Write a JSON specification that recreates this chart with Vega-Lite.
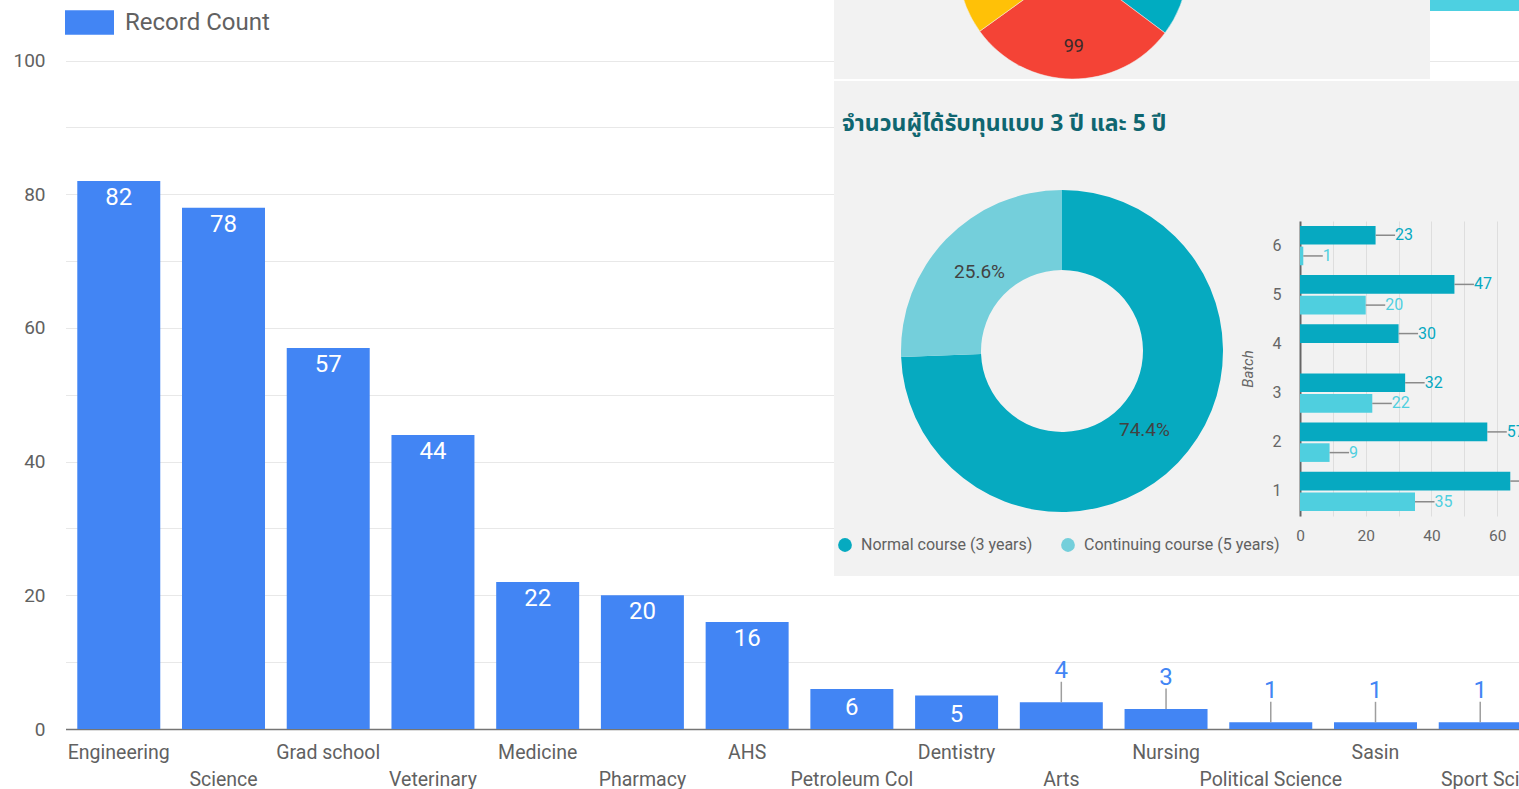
{
  "$schema": "https://vega.github.io/schema/vega-lite/v6.json",
  "background": "white",
  "padding": {"left": 12.5, "top": -152, "right": 0, "bottom": 0},
  "align": "none",
  "bounds": "flush",
  "spacing": -699.5,
  "resolve": {"scale": {"color": "independent"}, "legend": {"color": "independent"}},
  "config": {
    "view": {"stroke": null},
    "font": "Roboto"
  },
  "hconcat": [
    {
      "width": 1468,
      "height": 880,
      "data": {"values": [
        {"faculty": "Engineering", "count": 82},
        {"faculty": "Science", "count": 78},
        {"faculty": "Grad school", "count": 57},
        {"faculty": "Veterinary", "count": 44},
        {"faculty": "Medicine", "count": 22},
        {"faculty": "Pharmacy", "count": 20},
        {"faculty": "AHS", "count": 16},
        {"faculty": "Petroleum Col", "count": 6},
        {"faculty": "Dentistry", "count": 5},
        {"faculty": "Arts", "count": 4},
        {"faculty": "Nursing", "count": 3},
        {"faculty": "Political Science", "count": 1},
        {"faculty": "Sasin", "count": 1},
        {"faculty": "Sport Sci", "count": 1}
      ]},
      "encoding": {
        "x": {
          "field": "faculty", "type": "nominal", "sort": null,
          "scale": {"paddingInner": 0.2076, "paddingOuter": 0.1125},
          "axis": {
            "title": null, "labelAngle": 0, "labelFontSize": 19.5, "labelColor": "#616161",
            "ticks": false, "labelPadding": 14, "domainColor": "#757575", "domainWidth": 1.5,
            "labelOverlap": false, "labelLineHeight": 27, "labelBaseline": "top",
            "labelExpr": "indexof(['Science','Veterinary','Pharmacy','Petroleum Col','Arts','Political Science','Sport Sci'], datum.label) >= 0 ? ['', datum.label] : datum.label"
          }
        }
      },
      "layer": [
        {
          "mark": {"type": "bar"},
          "encoding": {
            "y": {
              "field": "count", "type": "quantitative",
              "scale": {"domain": [0, 131.66], "nice": false, "zero": true},
              "axis": {
                "title": null, "values": [0, 10, 20, 30, 40, 50, 60, 70, 80, 90, 100],
                "labelExpr": "datum.value % 20 === 0 ? datum.label : ''",
                "grid": true, "gridColor": "#e8e8e8", "gridWidth": 1,
                "domain": false, "ticks": false, "labelPadding": 20.5,
                "labelFontSize": 19, "labelColor": "#616161"
              }
            },
            "color": {
              "datum": "Record Count",
              "scale": {"range": ["#4285f4"]},
              "legend": {
                "orient": "none", "legendX": -0.5, "legendY": 149, "title": null,
                "symbolType": "M-1,-0.5H1V0.5H-1Z", "symbolSize": 2401, "symbolStrokeWidth": 0,
                "labelFontSize": 24, "labelColor": "#616161", "labelOffset": 11, "padding": 0
              }
            }
          }
        },
        {
          "transform": [{"filter": "datum.count >= 10"}],
          "mark": {"type": "text", "color": "white", "baseline": "top", "dy": 5, "fontSize": 24},
          "encoding": {
            "y": {"field": "count", "type": "quantitative"},
            "text": {"field": "count", "type": "quantitative"}
          }
        },
        {
          "transform": [{"filter": "datum.count >= 5 && datum.count < 10"}],
          "mark": {"type": "text", "color": "white", "baseline": "middle", "dy": 19, "fontSize": 24},
          "encoding": {
            "y": {"field": "count", "type": "quantitative"},
            "text": {"field": "count", "type": "quantitative"}
          }
        },
        {
          "transform": [{"filter": "datum.count < 5"}],
          "mark": {"type": "rule", "color": "#9e9e9e", "strokeWidth": 1.5, "y2Offset": -20.5},
          "encoding": {
            "y": {"field": "count", "type": "quantitative"},
            "y2": {"field": "count"}
          }
        },
        {
          "transform": [{"filter": "datum.count < 5"}],
          "mark": {"type": "text", "color": "#4285f4", "baseline": "alphabetic", "dy": -24, "fontSize": 24},
          "encoding": {
            "y": {"field": "count", "type": "quantitative"},
            "text": {"field": "count", "type": "quantitative"}
          }
        }
      ]
    },
    {
      "vconcat": [
        {
          "hconcat": [
            {
              "width": 124, "height": 230,
              "view": {"fill": "#f2f2f2"},
              "data": {"values": []},
              "mark": "point"
            },
            {
              "width": 230, "height": 230,
              "view": {"fill": "#f2f2f2"},
              "data": {"values": [
                {"year": "2018", "n": 117},
                {"year": "2019", "n": 99},
                {"year": "2020", "n": 52},
                {"year": "2021", "n": 34},
                {"year": "2022", "n": 30}
              ]},
              "encoding": {
                "theta": {"field": "n", "type": "quantitative", "stack": true},
                "color": {
                  "field": "year", "type": "nominal",
                  "scale": {"domain": ["2018", "2019", "2020", "2021", "2022"], "range": ["#00acc1", "#f44336", "#ffc107", "#4285f4", "#4caf50"]},
                  "legend": null
                }
              },
              "layer": [
                {"mark": {"type": "arc", "outerRadius": 115, "stroke": "#f2f2f2", "strokeWidth": 0.5}},
                {
                  "mark": {"type": "text", "radius": 83, "fontSize": 18, "color": "#3a2a2a"},
                  "encoding": {
                    "text": {"field": "n", "type": "quantitative"},
                    "color": {"value": "#3a2a2a"},
                    "detail": {"field": "year"},
                    "opacity": {"condition": {"test": "datum.year == '2019'", "value": 1}, "value": 0}
                  }
                }
              ]
            },
            {
              "width": 242, "height": 230,
              "view": {"fill": "#f2f2f2"},
              "data": {"values": []},
              "mark": "point"
            },
            {
              "width": 100, "height": 162,
              "data": {"values": [{"v": 1}]},
              "mark": {"type": "rect", "color": "#4dd0e1"}
            }
          ],
          "align": "none",
          "spacing": 0,
          "bounds": "flush",
          "resolve": {"scale": {"color": "independent"}, "legend": {"color": "independent"}}
        },
        {
          "hconcat": [
            {
              "width": 700, "height": 495,
              "view": {"fill": "#f2f2f2"},
              "title": {
                "text": "จำนวนผู้ได้รับทุนแบบ 3 ปี และ 5 ปี",
                "anchor": "start", "frame": "group", "offset": -66, "baseline": "middle",
                "dx": 8, "fontSize": 23, "fontWeight": "bold", "color": "#0f6670",
                "font": "'Noto Sans Thai', 'Noto Sans', sans-serif"
              },
              "data": {"values": []},
              "mark": "point"
            },
            {
              "hconcat": [
                {
                  "width": 456, "height": 540,
                  "data": {"values": [
                    {"course": "Normal course (3 years)", "share": 74.4, "label": "74.4%"},
                    {"course": "Continuing course (5 years)", "share": 25.6, "label": "25.6%"}
                  ]},
                  "encoding": {
                    "theta": {"field": "share", "type": "quantitative", "stack": true},
                    "order": {"field": "share", "type": "quantitative", "sort": "descending"},
                    "color": {
                      "field": "course", "type": "nominal",
                      "scale": {"domain": ["Normal course (3 years)", "Continuing course (5 years)"], "range": ["#06aac0", "#74cfdb"]},
                      "legend": {
                        "orient": "none", "legendX": 3, "legendY": 456, "direction": "horizontal",
                        "title": null, "symbolType": "circle", "symbolSize": 190, "symbolStrokeWidth": 0,
                        "labelFontSize": 16, "labelColor": "#616161", "labelOffset": 8,
                        "columnPadding": 27, "padding": 0, "labelLimit": 300
                      }
                    }
                  },
                  "layer": [
                    {"mark": {"type": "arc", "outerRadius": 161, "innerRadius": 81}},
                    {
                      "mark": {"type": "text", "radius": 114.5, "fontSize": 19, "color": "#424242"},
                      "encoding": {"text": {"field": "label", "type": "nominal"}, "color": {"value": "#424242"}, "detail": {"field": "course"}}
                    }
                  ]
                },
                {
                  "vconcat": [
                    {
                      "width": 230, "height": 1,
                      "data": {"values": []},
                      "mark": "point"
                    },
                    {
                      "width": 230, "height": 295,
                      "data": {"values": [
                        {"batch": "6", "course": "Normal course (3 years)", "n": 23},
                        {"batch": "6", "course": "Continuing course (5 years)", "n": 1},
                        {"batch": "5", "course": "Normal course (3 years)", "n": 47},
                        {"batch": "5", "course": "Continuing course (5 years)", "n": 20},
                        {"batch": "4", "course": "Normal course (3 years)", "n": 30},
                        {"batch": "3", "course": "Normal course (3 years)", "n": 32},
                        {"batch": "3", "course": "Continuing course (5 years)", "n": 22},
                        {"batch": "2", "course": "Normal course (3 years)", "n": 57},
                        {"batch": "2", "course": "Continuing course (5 years)", "n": 9},
                        {"batch": "1", "course": "Normal course (3 years)", "n": 64},
                        {"batch": "1", "course": "Continuing course (5 years)", "n": 35}
                      ]},
                      "encoding": {
                        "y": {
                          "field": "batch", "type": "ordinal", "sort": ["6", "5", "4", "3", "2", "1"],
                          "scale": {"paddingInner": 0.2, "paddingOuter": 0.1},
                          "axis": {
                            "title": "Batch", "titleFontStyle": "italic", "titleFontWeight": "normal",
                            "titleFontSize": 15, "titleColor": "#666666", "titlePadding": 17,
                            "labelFontSize": 16, "labelColor": "#666666", "labelPadding": 19,
                            "labelAngle": 0, "ticks": false, "domainColor": "#666666", "domainWidth": 2
                          }
                        },
                        "yOffset": {
                          "field": "course", "type": "nominal",
                          "sort": ["Normal course (3 years)", "Continuing course (5 years)"],
                          "scale": {"paddingInner": 0.1}
                        },
                        "x": {
                          "field": "n", "type": "quantitative",
                          "scale": {"domain": [0, 70], "nice": false},
                          "axis": {
                            "title": null, "values": [0, 10, 20, 30, 40, 50, 60, 70],
                            "labelExpr": "datum.value % 20 === 0 ? datum.label : ''",
                            "grid": true, "gridColor": "#dedede", "domain": false, "ticks": false,
                            "labelPadding": 12, "labelFontSize": 15.5, "labelColor": "#666666", "labelFlush": false
                          }
                        },
                        "color": {
                          "field": "course", "type": "nominal",
                          "scale": {"domain": ["Normal course (3 years)", "Continuing course (5 years)"], "range": ["#06a9c1", "#4fcfdf"]},
                          "legend": null
                        }
                      },
                      "layer": [
                        {"mark": {"type": "bar"}},
                        {
                          "mark": {"type": "rule", "color": "#8a8a8a", "strokeWidth": 1.5, "x2Offset": 19.5},
                          "encoding": {"x2": {"field": "n"}, "color": {"value": "#8a8a8a"}}
                        },
                        {
                          "mark": {"type": "text", "align": "left", "baseline": "middle", "dx": 19.5, "fontSize": 16},
                          "encoding": {"text": {"field": "n", "type": "quantitative"}}
                        }
                      ]
                    }
                  ],
                  "align": "none",
                  "spacing": 139,
                  "bounds": "flush"
                }
              ],
              "align": "none",
              "spacing": 10,
              "bounds": "flush",
              "resolve": {"scale": {"color": "independent"}, "legend": {"color": "independent"}}
            }
          ],
          "align": "none",
          "spacing": -700,
          "bounds": "flush",
          "resolve": {"scale": {"color": "independent"}, "legend": {"color": "independent"}}
        }
      ],
      "align": "none",
      "spacing": 232,
      "bounds": "flush",
      "resolve": {"scale": {"color": "independent"}, "legend": {"color": "independent"}}
    }
  ]
}
